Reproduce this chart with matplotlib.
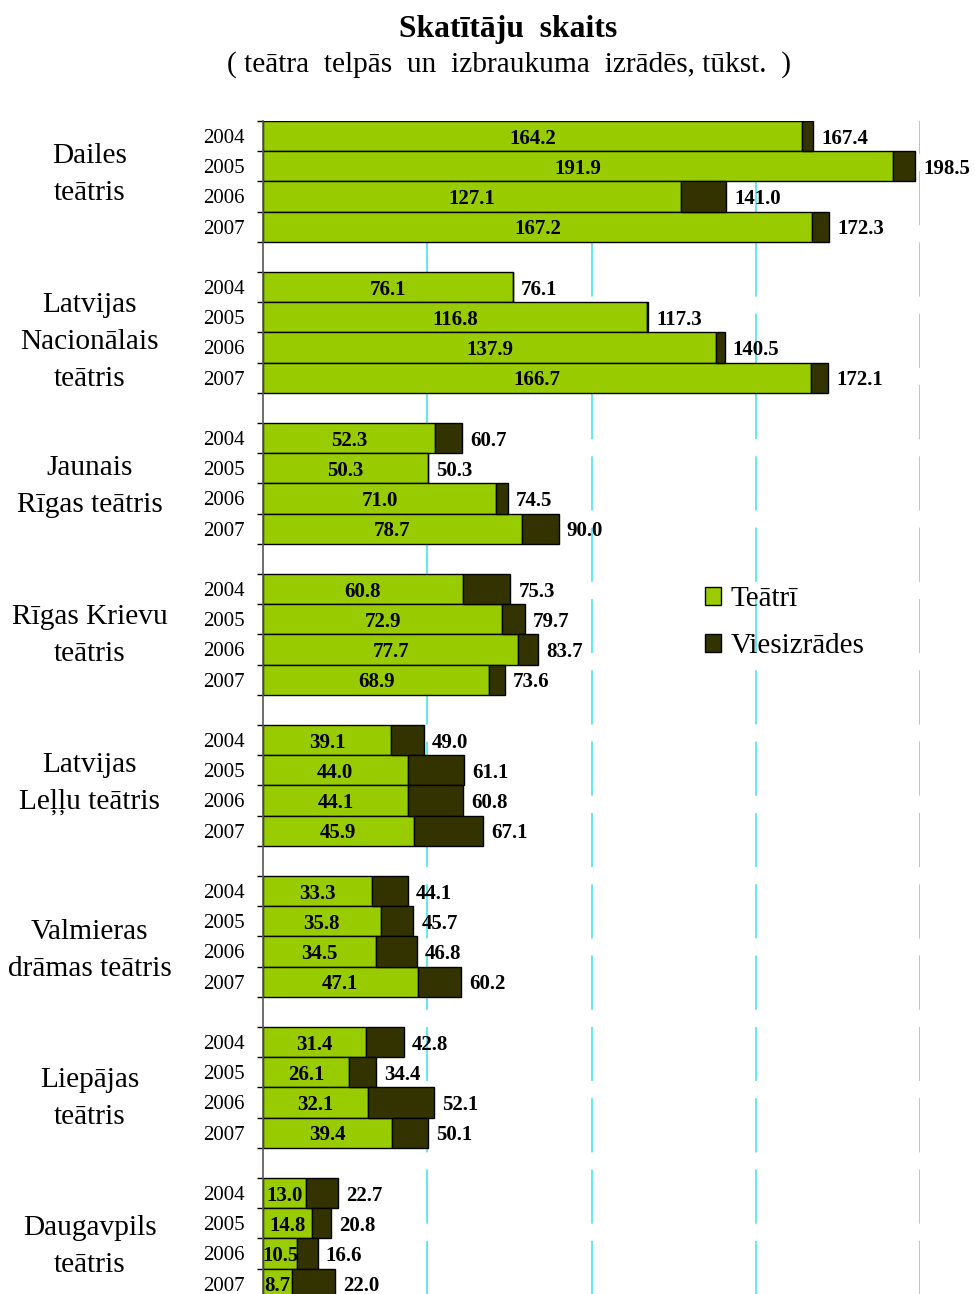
import matplotlib
matplotlib.use("Agg")
import matplotlib.pyplot as plt
from matplotlib.patches import Patch

plt.rcParams['font.family'] = ['Liberation Serif', 'DejaVu Serif']

theatres = ["Dailes\nteātris", "Latvijas\nNacionālais\nteātris", "Jaunais\nRīgas teātris",
            "Rīgas Krievu\nteātris", "Latvijas\nLeļļu teātris", "Valmieras\ndrāmas teātris",
            "Liepājas\nteātris", "Daugavpils\nteātris"]
years = ["2004", "2005", "2006", "2007"]

teatri = [
    [164.2, 191.9, 127.1, 167.2],
    [76.1, 116.8, 137.9, 166.7],
    [52.3, 50.3, 71.0, 78.7],
    [60.8, 72.9, 77.7, 68.9],
    [39.1, 44.0, 44.1, 45.9],
    [33.3, 35.8, 34.5, 47.1],
    [31.4, 26.1, 32.1, 39.4],
    [13.0, 14.8, 10.5, 8.7],
]
kopa = [
    [167.4, 198.5, 141.0, 172.3],
    [76.1, 117.3, 140.5, 172.1],
    [60.7, 50.3, 74.5, 90.0],
    [75.3, 79.7, 83.7, 73.6],
    [49.0, 61.1, 60.8, 67.1],
    [44.1, 45.7, 46.8, 60.2],
    [42.8, 34.4, 52.1, 50.1],
    [22.7, 20.8, 16.6, 22.0],
]

# layout: vertical nudge of each group name (in bar slots)
name_nudge = [-0.22, 0.33, 0.1, 0.03, -0.06, 0.47, 0.37, 0.27]

GREEN = '#99CC00'
DARK = '#333300'
GRID = '#55E8EE'

W, H = 975, 1294
fig = plt.figure(figsize=(W / 100, H / 100), dpi=100)
top_px, bot_px = 121, 121 + 39 * 30.2
left_px, right_px = 263, 920
ax = fig.add_axes([left_px / W, 1 - bot_px / H, (right_px - left_px) / W, (bot_px - top_px) / H])

ys, gv, dv, tv = [], [], [], []
for g in range(len(theatres)):
    for j in range(len(years)):
        ys.append(g * 5 + j + 0.5)
        gv.append(teatri[g][j])
        tv.append(kopa[g][j])
        dv.append(round(kopa[g][j] - teatri[g][j], 1))

ax.barh(ys, gv, height=1.0, color=GREEN, edgecolor='black', linewidth=1.0, zorder=3)
ax.barh(ys, dv, left=gv, height=1.0, color=DARK, edgecolor='black', linewidth=1.0, zorder=3)

ax.set_xlim(0, 200)
ax.set_ylim(39, 0)

for xv in [50, 100, 150, 200]:
    ax.axvline(xv, color=GRID, linewidth=1.3, linestyle=(0, (30.0, 9.5)), zorder=1)

for s in ['top', 'right', 'bottom']:
    ax.spines[s].set_visible(False)
ax.spines['left'].set_color('#555555')
ax.spines['left'].set_linewidth(1.2)
ax.spines['left'].set_zorder(4)
ax.set_xticks([])
ax.set_yticks(range(0, 40))
ax.tick_params(axis='y', length=4.5, width=1.0, color='black', labelleft=False, direction='out')

TY = 0.08
for y, gval, tval in zip(ys, gv, tv):
    ax.text(gval / 2, y + TY, f"{gval:.1f}", ha='center', va='center', fontsize=15,
            fontweight='bold', zorder=5, clip_on=False)
    ax.text(tval + 2.5, y + TY, f"{tval:.1f}", ha='left', va='center', fontsize=15,
            fontweight='bold', zorder=5, clip_on=False)

for g, name in enumerate(theatres):
    for j, yr in enumerate(years):
        ax.text(-5.5, g * 5 + j + 0.5 + TY, yr, ha='right', va='center', fontsize=15, clip_on=False)
    ax.text(-52.7, g * 5 + 2 + name_nudge[g], name, ha='center', va='center', fontsize=21.2,
            linespacing=1.55, clip_on=False)

fig.text(508 / W, 1 - 30 / H, "Skatītāju  skaits", ha='center', va='center',
         fontsize=22.8, fontweight='bold')
fig.text(509 / W, 1 - 65 / H, "( teātra  telpās  un  izbraukuma  izrādēs, tūkst.  )",
         ha='center', va='center', fontsize=21.2)

handles = [Patch(facecolor=GREEN, edgecolor='black', linewidth=1.0, label='Teātrī'),
           Patch(facecolor=DARK, edgecolor='black', linewidth=1.0, label='Viesizrādes')]
fig.legend(handles=handles, loc='upper left', bbox_to_anchor=(685 / W, 1 - 566 / H),
           frameon=False, fontsize=21, handlelength=0.55, handleheight=0.55,
           handletextpad=0.3, labelspacing=0.72, borderpad=0.2)

fig.savefig("out.png", dpi=100)
